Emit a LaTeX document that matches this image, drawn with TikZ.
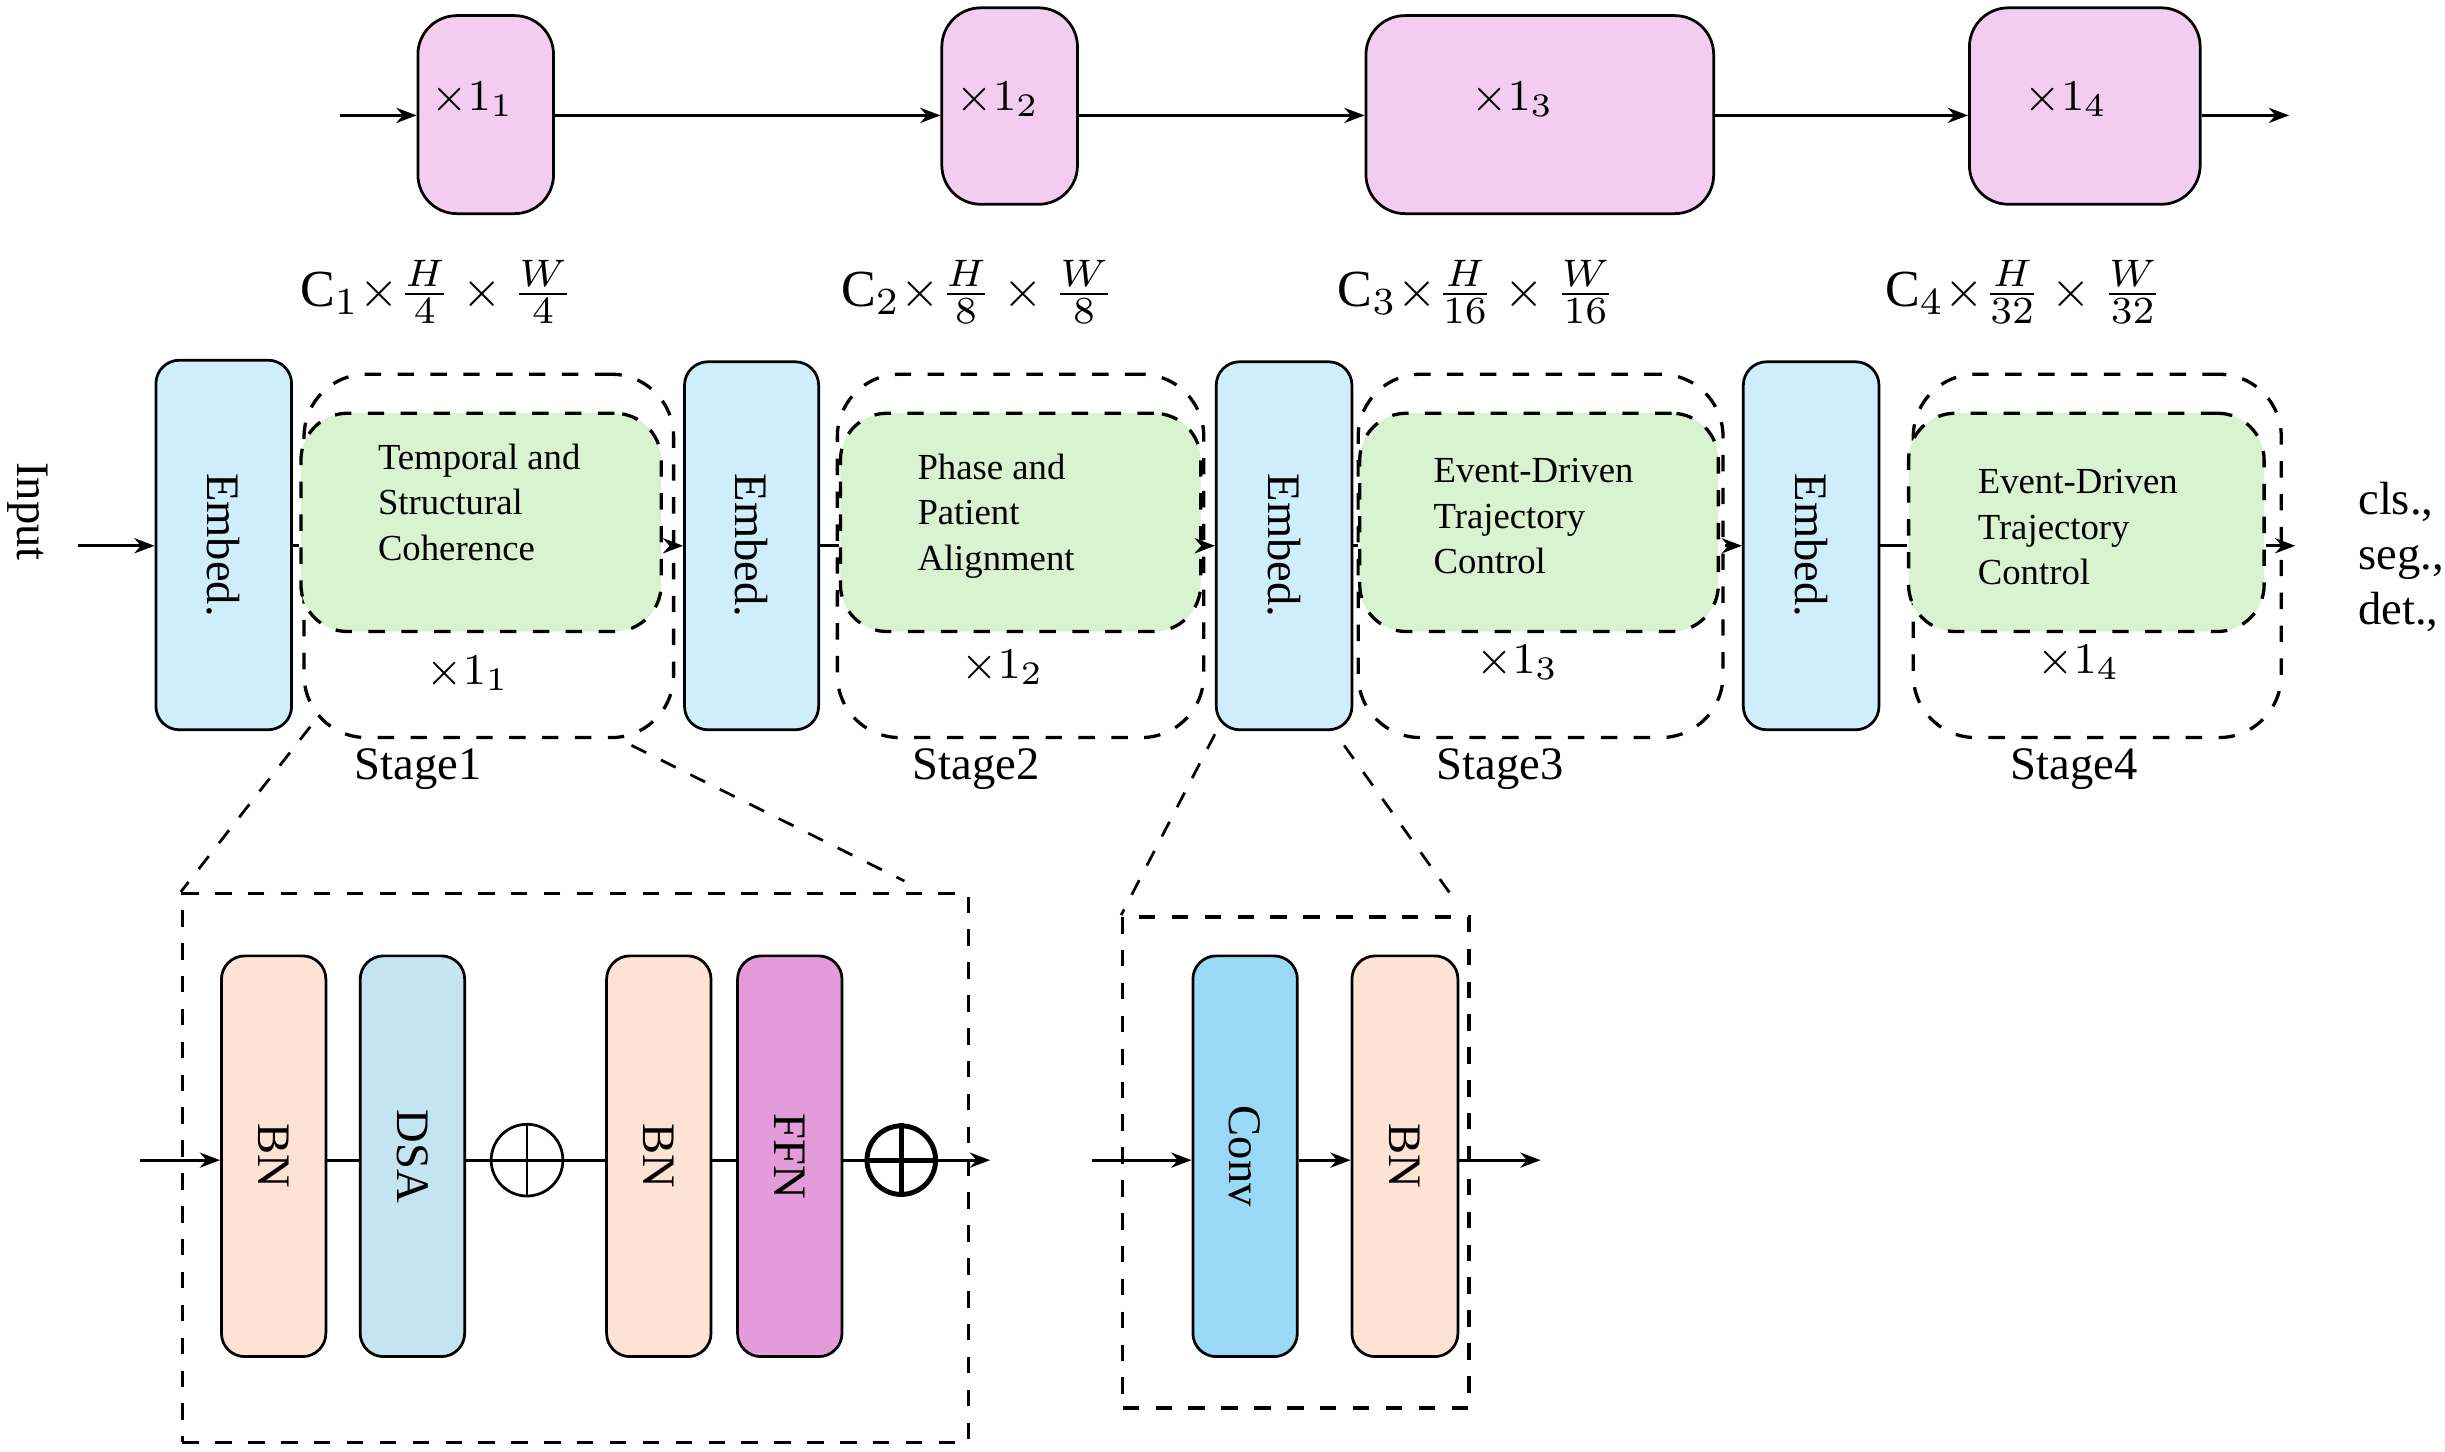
\documentclass[tikz,border=0pt]{standalone}
\usepackage{fontspec}
\setmainfont{Liberation Serif}
\usetikzlibrary{arrows.meta,positioning,calc}

\definecolor{pinkfill}{HTML}{F2CDEF}
\definecolor{embedfill}{HTML}{CFEEFB}
\definecolor{greenfill}{HTML}{D9F2D0}
\definecolor{peachfill}{HTML}{FCE3D4}
\definecolor{dsafill}{HTML}{C5E4F2}
\definecolor{ffnfill}{HTML}{E39BD9}
\definecolor{convfill}{HTML}{99D9F5}

\begin{document}
\begin{tikzpicture}[
    x=0.1mm, y=-0.1mm,
    font=\fontsize{8.5pt}{10pt}\selectfont,
    rep/.style={draw, line width=0.5pt, rounded corners=2.5mm, fill=pinkfill, inner sep=0pt},
    embed/.style={draw, line width=0.5pt, rounded corners=1.5mm, fill=embedfill, inner sep=0pt},
    block/.style={draw, line width=0.5pt, rounded corners=1.5mm, inner sep=0pt},
    stage/.style={draw, dashed, line width=0.6pt, rounded corners=4mm},
    core/.style={draw, dashed, line width=0.6pt, rounded corners=3mm, fill=greenfill},
    zoombox/.style={draw, dashed, line width=0.6pt},
    zoomline/.style={dashed, line width=0.5pt},
    arrow/.style={-{Stealth[length=1.3mm]}, line width=0.5pt},
    line/.style={line width=0.5pt},
    small/.style={font=\fontsize{6.7pt}{8.3pt}\selectfont, align=left},
    dim/.style={font=\fontsize{9.5pt}{11pt}\selectfont, inner sep=0pt}
]
\useasboundingbox (0,0) rectangle (1568,931);

% Top row
\coordinate (topin) at (218,74);
\node[rep, minimum width=8.7mm, minimum height=12.7mm] (R1) at (311.5,73.5) {};
\node[rep, minimum width=8.7mm, minimum height=12.6mm] (R2) at (647.5,68) {};
\node[rep, minimum width=22.3mm, minimum height=12.7mm] (R3) at (987.5,73.5) {};
\node[rep, minimum width=14.8mm, minimum height=12.6mm] (R4) at (1337,68) {};
\node at (303,64) {$\times 1_1$};
\node at (640,64) {$\times 1_2$};
\node at (970,64) {$\times 1_3$};
\node at (1325,64) {$\times 1_4$};
\coordinate (topout) at (1468,74);
\draw[arrow] (topin) -- (topin -| R1.west);
\draw[arrow] (R1.east |- topin) -- (R2.west |- topin);
\draw[arrow] (R2.east |- topin) -- (R3.west |- topin);
\draw[arrow] (R3.east |- topin) -- (R4.west |- topin);
\draw[arrow] (R4.east |- topin) -- (topout);

% Resolutions
\node[dim] (D1) at (280,187) {C$_1{\times}\frac{H}{4}\times\frac{W}{4}$};
\node[dim] (D2) at (627,187) {C$_2{\times}\frac{H}{8}\times\frac{W}{8}$};
\node[dim] (D3) at (947,187) {C$_3{\times}\frac{H}{16}\times\frac{W}{16}$};
\node[dim] (D4) at (1298,187) {C$_4{\times}\frac{H}{32}\times\frac{W}{32}$};

% Embeds
\node[embed, minimum width=8.7mm, minimum height=23.7mm] (E1) at (143.5,349.5) {\rotatebox{-90}{Embed.}};
\node[embed, minimum width=8.6mm, minimum height=23.6mm] (E2) at (482,350) {\rotatebox{-90}{Embed.}};
\node[embed, minimum width=8.7mm, minimum height=23.6mm] (E3) at (823.5,350) {\rotatebox{-90}{Embed.}};
\node[embed, minimum width=8.7mm, minimum height=23.6mm] (E4) at (1161.5,350) {\rotatebox{-90}{Embed.}};

% Stages
\node[stage, minimum width=23.7mm, minimum height=23.3mm] (S1) at (313.5,356.5) {};
\node[stage, minimum width=23.5mm, minimum height=23.3mm] (S2) at (654.5,356.5) {};
\node[stage, minimum width=23.4mm, minimum height=23.3mm] (S3) at (988,356.5) {};
\node[stage, minimum width=23.6mm, minimum height=23.3mm] (S4) at (1345,356.5) {};
\node[core, minimum width=23.1mm, minimum height=14mm] (G1) at (308.5,335) {};
\node[core, minimum width=23.1mm, minimum height=14mm] (G2) at (654.5,335) {};
\node[core, minimum width=23mm, minimum height=14mm] (G3) at (987,335) {};
\node[core, minimum width=22.8mm, minimum height=14mm] (G4) at (1338,335) {};
\node[small, anchor=west] at (230,322) {Temporal and\\Structural\\Coherence};
\node[small, anchor=west] at (576,331) {Phase and\\Patient\\Alignment};
\node[small, anchor=west] at (907,331) {Event-Driven\\Trajectory\\Control};
\node[small, anchor=west] at (1256,338) {Event-Driven\\Trajectory\\Control};
\node at (300,432) {$\times 1_1$};
\node at (643,428) {$\times 1_2$};
\node at (973,425) {$\times 1_3$};
\node at (1333,425) {$\times 1_4$};
\node at (268,493) {Stage1};
\node at (626,493) {Stage2};
\node at (962,493) {Stage3};
\node at (1330,493) {Stage4};

% Input and output
\node[rotate=-90] (In) at (18,328) {Input};
\coordinate (inl) at (50,350);
\draw[arrow] (inl) -- (E1.west |- inl);
\draw[line] (E1.east |- inl) -- (G1.west |- inl);
\draw[arrow] (S1.east |- inl) -- (E2.west |- inl);
\draw[line] (E2.east |- inl) -- (G2.west |- inl);
\draw[arrow] (S2.east |- inl) -- (E3.west |- inl);
\draw[line] (E3.east |- inl) -- (G3.west |- inl);
\draw[arrow] (S3.east |- inl) -- (E4.west |- inl);
\draw[line] (E4.east |- inl) -- (G4.west |- inl);
\coordinate (outr) at (1472,350);
\draw[arrow] (G4.east |- inl) -- (outr);
\node[anchor=west, align=left] (Out) at (1500,357) {cls.,\\seg.,\\det.,};

% Zoomed block
\node[zoombox, minimum width=50.4mm, minimum height=35.2mm] (Z1) at (369,749) {};
\draw[zoomline] (S1.south west) ++(5,-8) -- (Z1.north west);
\draw[zoomline] (405,478) -- (580,565);
\node[block, fill=peachfill, minimum width=6.7mm, minimum height=25.7mm] (BN1) at (175.5,741.5) {\rotatebox{-90}{BN}};
\node[block, fill=dsafill, minimum width=6.7mm, minimum height=25.7mm] (DSA) at (264.5,741.5) {\rotatebox{-90}{DSA}};
\node[draw, circle, line width=0.5pt, minimum size=4.6mm, inner sep=0pt] (P1) at (338,744) {};
\node[block, fill=peachfill, minimum width=6.7mm, minimum height=25.7mm] (BN2) at (422.5,741.5) {\rotatebox{-90}{BN}};
\node[block, fill=ffnfill, minimum width=6.7mm, minimum height=25.7mm] (FFN) at (506.5,741.5) {\rotatebox{-90}{FFN}};
\node[draw, circle, line width=0.9pt, minimum size=4.4mm, inner sep=0pt] (P2) at (578,744) {};
\draw[line] (P1.north) -- (P1.south) (P1.west) -- (P1.east);
\draw[line width=0.9pt] (P2.north) -- (P2.south) (P2.west) -- (P2.east);
\coordinate (bin) at (90,744);
\coordinate (bout) at (635,744);
\draw[arrow] (bin) -- (BN1.west |- bin);
\draw[line] (BN1.east |- bin) -- (DSA.west |- bin);
\draw[line] (DSA.east |- bin) -- (P1.west);
\draw[line] (P1.east) -- (BN2.west |- bin);
\draw[line] (BN2.east |- bin) -- (FFN.west |- bin);
\draw[line] (FFN.east |- bin) -- (P2.west);
\draw[arrow] (P2.east) -- (bout);

% Zoomed embed
\node[zoombox, minimum width=22.2mm, minimum height=31.5mm] (Z2) at (831,745.5) {};
\draw[zoomline] (E3.south west) ++(0,2) -- (Z2.north west) ++(10,0);
\draw[zoomline] (862,478) -- (935,580);
\node[block, fill=convfill, minimum width=6.7mm, minimum height=25.7mm] (CV) at (798.5,741.5) {\rotatebox{-90}{Conv}};
\node[block, fill=peachfill, minimum width=6.8mm, minimum height=25.7mm] (BN3) at (901,741.5) {\rotatebox{-90}{BN}};
\coordinate (cin) at (700,744);
\coordinate (cout) at (988,744);
\draw[arrow] (cin) -- (CV.west |- cin);
\draw[arrow] (CV.east |- cin) -- (BN3.west |- cin);
\draw[arrow] (BN3.east |- cin) -- (cout);
\end{tikzpicture}
\end{document}
